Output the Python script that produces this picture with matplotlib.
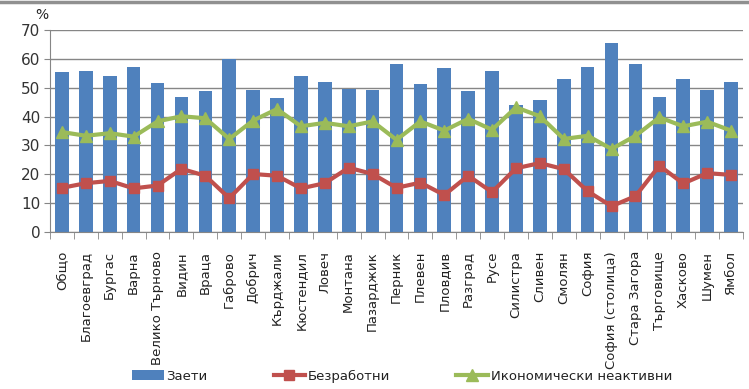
import numpy as np
import matplotlib
matplotlib.use("Agg")
from matplotlib import pyplot as plt
from matplotlib.lines import Line2D

regions = ["Общо", "Благоевград", "Бургас", "Варна", "Велико Търново", "Видин",
           "Враца", "Габрово", "Добрич", "Кърджали", "Кюстендил", "Ловеч",
           "Монтана", "Пазарджик", "Перник", "Плевен", "Пловдив", "Разград",
           "Русе", "Силистра", "Сливен", "Смолян", "София", "София (столица)",
           "Стара Загора", "Търговище", "Хасково", "Шумен", "Ямбол"]

employed = [55.6, 55.9, 54.2, 57.3, 51.7, 46.9, 49.0, 60.0, 49.3, 46.5, 54.2, 52.0,
            49.7, 49.4, 58.3, 51.4, 57.0, 49.0, 55.9, 44.1, 45.7, 53.1, 57.3, 65.7,
            58.3, 46.9, 53.1, 49.3, 52.1]
unemployed = [15.2, 16.8, 17.6, 15.0, 16.0, 21.8, 19.4, 11.6, 20.0, 19.4, 15.0, 16.8,
              22.2, 20.0, 15.2, 17.0, 12.7, 19.4, 13.7, 22.0, 23.8, 21.7, 14.0, 8.8,
              12.3, 22.9, 16.7, 20.3, 19.7]
inactive = [34.6, 33.3, 34.2, 33.0, 38.3, 40.1, 39.4, 32.2, 38.6, 42.6, 36.6, 37.8,
            36.6, 38.3, 31.9, 38.3, 35.1, 39.2, 35.4, 43.2, 40.1, 32.2, 33.3, 28.7,
            33.3, 39.7, 36.6, 38.2, 35.1]

blue = "#4F81BD"
red = "#C0504D"
green = "#9BBB59"
grid = "#868686"
txt = "#222222"

plt.rcParams["font.family"] = ["DejaVu Sans"]

fig = plt.figure(figsize=(7.49, 3.89), dpi=100)
ax = fig.add_axes([50 / 749, 1 - 231.5 / 389, 693 / 749, 201.2 / 389])

x = np.arange(len(regions))
b = ax.bar(x, employed, width=0.57, color=blue, zorder=2)
l1, = ax.plot(x, unemployed, color=red, lw=3, marker="s", ms=7, zorder=3)
l2, = ax.plot(x, inactive, color=green, lw=3, marker="^", ms=8, zorder=3)

ax.set_xlim(-0.5, len(regions) - 0.5)
ax.set_ylim(0, 70)
ax.set_yticks(range(0, 71, 10))
ax.yaxis.grid(True, color=grid, lw=1, zorder=0)
ax.set_axisbelow(True)

ax.set_xticks(x)
ax.set_xticklabels(regions, rotation=90, fontsize=9.5, color=txt)
ax.tick_params(axis="x", length=0, pad=14)
ax.set_xticks(np.arange(-0.5, len(regions), 1), minor=True)
ax.tick_params(axis="x", which="minor", length=5, color=grid)
ax.tick_params(axis="y", length=4, color=grid, labelsize=11, pad=3, labelcolor="#333333")

for s in ["top", "right"]:
    ax.spines[s].set_visible(False)
ax.spines["left"].set_color(grid)
ax.spines["bottom"].set_color(grid)

fig.text(42 / 749, 1 - 15 / 389, "%", fontsize=10, ha="center", va="center", color=txt)

leg = fig.legend([b, l1, l2], ["Заети", "Безработни", "Икономически неактивни"],
                 loc="center", bbox_to_anchor=(402 / 749, 1 - 376 / 389), ncol=3,
                 frameon=False, fontsize=9.5, handlelength=2.4, columnspacing=5.0,
                 handletextpad=0.2)
for t in leg.get_texts():
    t.set_color(txt)

fig.add_artist(Line2D([0, 1], [1 - 1.5 / 389, 1 - 1.5 / 389], color="#909090", lw=2.5))

fig.savefig("out.png", dpi=100)
